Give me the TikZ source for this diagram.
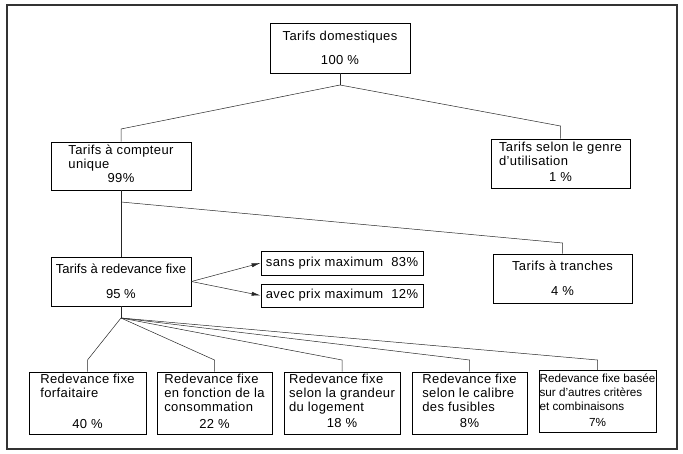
\documentclass[tikz,border=0pt]{standalone}
\usepackage{fontspec}
\setmainfont{Liberation Sans}
\usetikzlibrary{arrows.meta}

\tikzset{
  box/.style={draw, line width=0.8pt, inner sep=0pt,
    font=\fontsize{13}{14}\selectfont\addfontfeature{LetterSpace=3}},
  link/.style={line width=0.5pt, black!85},
  pfeil/.style={link, -{Latex[length=9pt,width=4pt]}}
}

\begin{document}
\begin{tikzpicture}[x=1pt, y=-1pt]
\useasboundingbox (0,0) rectangle (683,454);
\draw[line width=1.3pt, black!80] (7,5) rectangle (677,449);

% Ebene 0
\node[box, minimum width=140, minimum height=50, align=center] (dom) at (340,48)
  {Tarifs domestiques\\[10pt]100 \%};

% Ebene 1
\node[box, minimum width=140, minimum height=48] (cpt) at (121,166)
  {\begin{tabular}{@{}l@{}}Tarifs à compteur\\ unique\\ \multicolumn{1}{@{}c@{}}{99\%}\end{tabular}};
\node[box, minimum width=139, minimum height=49] (gen) at (560.5,163.5)
  {\begin{tabular}{@{}l@{}}Tarifs selon le genre\\ d'utilisation\\[2pt] \multicolumn{1}{@{}c@{}}{1 \%}\end{tabular}};

% Ebene 2
\node[box, minimum width=140, minimum height=49, align=center,
  font=\fontsize{13}{14}\selectfont] (red) at (121,281.5)
  {Tarifs à redevance fixe\\[11pt]95 \%};
\node[box, minimum width=139, minimum height=49, align=center] (tra) at (562.5,278.5)
  {Tarifs à tranches\\[11pt]4 \%};
\node[box, minimum width=162, minimum height=24] (sans) at (342,263)
  {sans prix maximum\hspace{8pt}83\%};
\node[box, minimum width=162, minimum height=23] (avec) at (342,295.5)
  {avec prix maximum\hspace{8pt}12\%};

% Ebene 3
\node[box, minimum width=117, minimum height=62] (f1) at (87.5,403)
  {\begin{tabular}{@{}l@{}}Redevance fixe\\ forfaitaire\\[17pt] \multicolumn{1}{@{}c@{}}{40 \%}\end{tabular}};
\node[box, minimum width=115, minimum height=62] (f2) at (214.5,403)
  {\begin{tabular}{@{}l@{}}Redevance fixe\\ en fonction de la\\ consommation\\[3pt] \multicolumn{1}{@{}c@{}}{22 \%}\end{tabular}};
\node[box, minimum width=116, minimum height=62] (f3) at (342,403)
  {\begin{tabular}{@{}l@{}}Redevance fixe\\ selon la grandeur\\ du logement\\[2pt] \multicolumn{1}{@{}c@{}}{18 \%}\end{tabular}};
\node[box, minimum width=115, minimum height=62] (f4) at (469.5,403)
  {\begin{tabular}{@{}l@{}}Redevance fixe\\ selon le calibre\\ des fusibles\\[2pt] \multicolumn{1}{@{}c@{}}{8\%}\end{tabular}};
\node[box, minimum width=117, minimum height=62, font=\fontsize{11.7}{14}\selectfont] (f5) at (597.5,401.5)
  {\begin{tabular}{@{}l@{}}Redevance fixe basée\\ sur d'autres critères\\ et combinaisons\\[2pt] \multicolumn{1}{@{}c@{}}{7\%}\end{tabular}};

% Verbindungen
\coordinate (j0) at (340,85);
\coordinate (j1) at (121,202);
\coordinate (j2) at (121,318);
\draw[link] (dom.south) -- (j0);
\draw[link] (j0) -- (cpt.north |- 0,129) -- (cpt.north);
\draw[link] (j0) -- (gen.north |- 0,126) -- (gen.north);
\draw[link] (cpt.south) -- (red.north);
\draw[link] (j1) -- (tra.north |- 0,243) -- (tra.north);
\draw[pfeil] (red.east) -- (sans.west);
\draw[pfeil] (red.east) -- (avec.west);
\draw[link] (red.south) -- (j2);
\foreach \b in {f1,f2,f3,f4,f5}
  \draw[link] (j2) -- (\b.north |- 0,360) -- (\b.north);
\end{tikzpicture}
\end{document}
